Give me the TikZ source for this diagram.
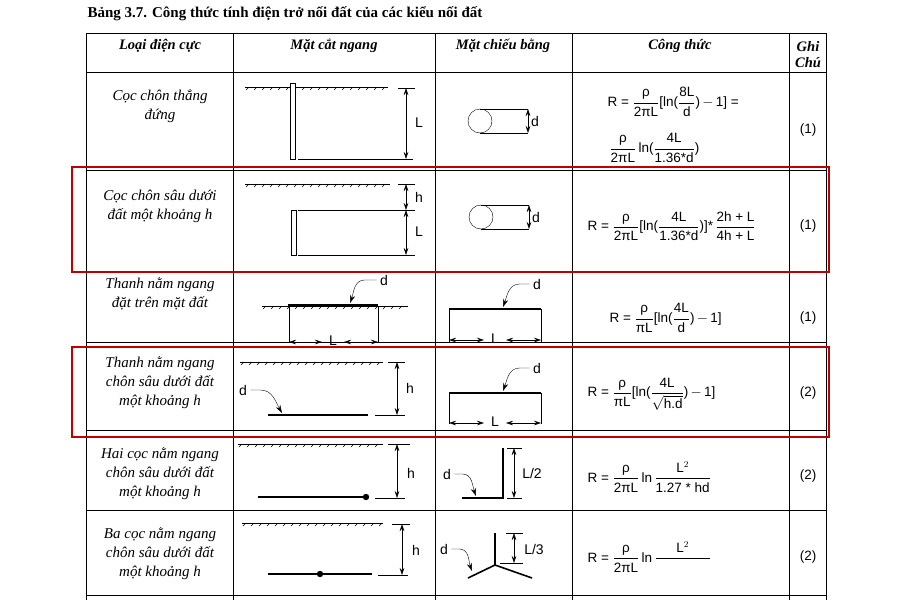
\documentclass[tikz,border=0pt]{standalone}
\usepackage{amsmath}
\usepackage{fontspec}
\setmainfont{Liberation Serif}
\newfontfamily\frm{Liberation Sans}
\usetikzlibrary{arrows.meta}
\tikzset{
  dim/.style={{Stealth[length=7pt,width=4.5pt]}-{Stealth[length=7pt,width=4.5pt]}, thin},
  lead/.style={-{Stealth[length=8pt,width=5pt]}},
  wire/.style={line width=1.6pt},
  grid/.style={line width=0.8pt},
  box/.style={draw=red!75!black, line width=1.3pt},
  hd/.style={font=\fontsize{14.5}{16}\selectfont\bfseries\itshape, align=center},
  kind/.style={font=\fontsize{15}{19}\selectfont\itshape, align=center},
  frm/.style={font=\fontsize{13.5}{15}\selectfont\frm},
  lbl/.style={font=\fontsize{14}{15}\selectfont\frm},
}
\newcommand\fr[2]{\dfrac{\text{#1}}{\text{#2}}}
\newcommand\groundline[3]{%
  \draw (#1,#3) -- (#2,#3);
  \pgfmathsetmacro\gstart{#1+4}\pgfmathsetmacro\gnext{#1+12}
  \foreach \gx in {\gstart,\gnext,...,#2} \draw (\gx,#3) -- ++(-3,3);}
\begin{document}
\begin{tikzpicture}[x=1pt,y=-1pt]
  \useasboundingbox (0,0) rectangle (900,600);
  \fill[white] (0,0) rectangle (900,600);
  \node[anchor=west, font=\fontsize{15}{17}\selectfont\bfseries] (title) at (84,14)
    {Bảng 3.7. Công thức tính điện trở nối đất của các kiểu nối đất};
  % table grid
  \draw[grid] (86,33) rectangle (826,600);
  \foreach \x in {233,435,572,789} \draw[grid] (\x,33) -- (\x,600);
  \foreach \y in {72,170,272,342,430,510,595} \draw[grid] (86,\y) -- (826,\y);
  % header
  \node[hd] (h1) at (160,46) {Loại điện cực};
  \node[hd] (h2) at (334,46) {Mặt cắt ngang};
  \node[hd] (h3) at (503,46) {Mặt chiếu bằng};
  \node[hd] (h4) at (680,46) {Công thức};
  \node[hd] (h5) at (808,55) {Ghi\\Chú};
  % kinds
  \node[kind] (k1) at (160,106) {Cọc chôn thẳng\\đứng};
  \node[kind] (k2) at (160,206) {Cọc chôn sâu dưới\\đất một khoảng h};
  \node[kind] (k3) at (160,294) {Thanh nằm ngang\\đặt trên mặt đất};
  \node[kind] (k4) at (160,383) {Thanh nằm ngang\\chôn sâu dưới đất\\một khoảng h};
  \node[kind] (k5) at (160,474) {Hai cọc nằm ngang\\chôn sâu dưới đất\\một khoảng h};
  \node[kind] (k6) at (160,554) {Ba cọc nằm ngang\\chôn sâu dưới đất\\một khoảng h};
  % notes
  \foreach \y/\t [count=\i] in {130/(1),226/(1),318/(1),393/(2),476/(2),557/(2)}
    \node[frm] (n\i) at (808,\y) {\t};
  % formulas
  \node[frm, anchor=west] (f1) at (604,102) {R = $\fr{ρ}{2πL}$[ln($\fr{8L}{d}$)\,$-$\,1] =};
  \node[frm, anchor=west] (f1b) at (606,148) {$\fr{ρ}{2πL}$\,ln($\fr{4L}{1.36*d}$)};
  \node[frm, anchor=west] (f2) at (584,226) {R = $\fr{ρ}{2πL}$[ln($\fr{4L}{1.36*d}$)]*\,$\fr{2h + L}{4h + L}$};
  \node[frm, anchor=west] (f3) at (606,318) {R = $\fr{ρ}{πL}$[ln($\fr{4L}{d}$)\,$-$\,1]};
  \node[frm, anchor=west] (f4) at (584,394) {R = $\fr{ρ}{πL}$[ln($\dfrac{\text{4L}}{\sqrt{\text{h.d}}}$)\,$-$\,1]};
  \node[frm, anchor=west] (f5) at (584,477) {R = $\fr{ρ}{2πL}$\,ln\,$\fr{L$^2$}{1.27 * hd}$};
  \node[frm, anchor=west] (f6) at (584,557) {R = $\fr{ρ}{2πL}$\,ln\,$\fr{L$^2$}{\phantom{1.27 * hd}}$};
  % row 1
  \groundline{245}{388}{87}
  \draw[fill=white] (290,83) rectangle (295,159);
  \draw (298,159) -- (413,159) (398,88) -- (415,88);
  \draw[dim] (406,88) -- (406,159);
  \node[lbl] (L1) at (419,123) {L};
  \draw (480,121) circle (12);
  \draw (480,109) -- (528,109) (480,133) -- (528,133);
  \draw[dim] (528,109) -- (528,133);
  \node[lbl] (d1) at (535,121) {d};
  % row 2
  \groundline{245}{390}{184}
  \draw[fill=white] (291,210) rectangle (296,255);
  \draw (298,210) -- (415,210) (298,255) -- (415,255) (398,184) -- (415,184);
  \draw[dim] (406,184) -- (406,210);
  \draw[dim] (406,210) -- (406,255);
  \node[lbl] (hh2) at (419,197) {h};
  \node[lbl] (L2) at (419,232) {L};
  \draw (481,217) circle (12);
  \draw (481,205) -- (529,205) (481,229) -- (529,229);
  \draw[dim] (529,205) -- (529,229);
  \node[lbl] (d2) at (536,217) {d};
  % row 3
  \groundline{262}{408}{306}
  \draw[wire] (288,305) -- (378,305);
  \draw (289,307) -- (289,343) (378,307) -- (378,343);
  \draw[dim] (289,342) -- (322,342);
  \draw[dim] (378,342) -- (344,342);
  \node[lbl] (L3) at (333,341) {L};
  \node[lbl] (d3) at (384,280) {d};
  \draw[lead] (d3.west) -- ++(-12,0) to[out=180,in=70] (350,303);
  \draw[wire] (449,309) -- (541,309);
  \draw (449,309) -- (449,342) (541,309) -- (541,342);
  \draw[dim] (449,340) -- (484,340);
  \draw[dim] (541,340) -- (506,340);
  \node[lbl] (L3b) at (495,339) {L};
  \node[lbl] (d3b) at (537,284) {d};
  \draw[lead] (d3b.west) -- ++(-10,0) to[out=180,in=70] (503,307);
  % row 4
  \groundline{240}{383}{362}
  \draw (388,362) -- (405,362) (375,415) -- (405,415);
  \draw[dim] (397,362) -- (397,415);
  \node[lbl] (hh4) at (410,388) {h};
  \draw[wire] (268,415) -- (368,415);
  \node[lbl] (d4) at (243,390) {d};
  \draw[lead] (d4.east) -- ++(10,0) to[out=0,in=120] (282,413);
  \draw[wire] (449,393) -- (541,393);
  \draw (449,393) -- (449,424) (541,393) -- (541,424);
  \draw[dim] (449,423) -- (484,423);
  \draw[dim] (541,423) -- (506,423);
  \node[lbl] (L4b) at (495,422) {L};
  \node[lbl] (d4b) at (537,368) {d};
  \draw[lead] (d4b.west) -- ++(-10,0) to[out=180,in=70] (503,391);
  % row 5
  \groundline{238}{383}{444}
  \draw (388,444) -- (410,444) (375,498) -- (405,498);
  \draw[dim] (397,444) -- (397,498);
  \node[lbl] (hh5) at (411,473) {h};
  \draw[wire] (258,497) -- (364,497);
  \fill (366,497) circle (3.2);
  \draw[wire] (503,448) -- (503,498) -- (462,498);
  \draw (507,448) -- (522,448) (507,498) -- (522,498);
  \draw[dim] (514,448) -- (514,498);
  \node[lbl] (L5) at (532,473) {L/2};
  \node[lbl] (d5) at (447,474) {d};
  \draw[lead] (d5.east) -- ++(8,0) to[out=0,in=110] (476,496);
  % row 6
  \groundline{242}{383}{523}
  \draw (392,524) -- (410,524) (378,575) -- (408,575);
  \draw[dim] (402,524) -- (402,575);
  \node[lbl] (hh6) at (416,550) {h};
  \draw[wire] (268,574) -- (372,574);
  \fill (320,574) circle (3.2);
  \draw[wire] (495,533) -- (495,565);
  \draw[wire] (468,578) -- (495,565) -- (532,578);
  \draw (506,533) -- (523,533) (500,563) -- (523,563);
  \draw[dim] (514,533) -- (514,563);
  \node[lbl] (L6) at (534,549) {L/3};
  \node[lbl] (d6) at (444,549) {d};
  \draw[lead] (d6.east) -- ++(8,0) to[out=0,in=110] (472,571);
  % red boxes
  \draw[box] (72,167) rectangle (829,272);
  \draw[box] (72,347) rectangle (829,437);
\end{tikzpicture}
\end{document}
